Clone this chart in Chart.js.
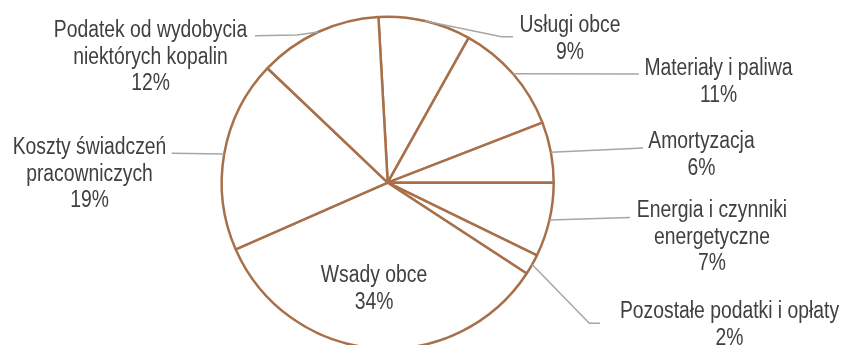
<!DOCTYPE html>
<html>
<head>
<meta charset="utf-8">
<script src="https://cdn.jsdelivr.net/npm/chart.js@4.4.1/dist/chart.umd.min.js"></script>
<style>
  html, body { margin: 0; padding: 0; background: #ffffff; overflow: hidden; }
  #wrap { position: relative; width: 843px; height: 345px; }
</style>
</head>
<body>
<div id="wrap"><canvas id="c" width="843" height="345"></canvas></div>
<script>
// ---- data ----
const categories = [
  "Usługi obce",
  "Materiały i paliwa",
  "Amortyzacja",
  "Energia i czynniki energetyczne",
  "Pozostałe podatki i opłaty",
  "Wsady obce",
  "Koszty świadczeń pracowniczych",
  "Podatek od wydobycia niektórych kopalin"
];
const values = [9.0, 11.0, 5.9, 7.2, 2.0, 34.2, 18.7, 12.0];
// label text lines (category part), percentage appended from values
const labelLines = [
  ["Usługi obce"],
  ["Materiały i paliwa"],
  ["Amortyzacja"],
  ["Energia i czynniki", "energetyczne"],
  ["Pozostałe podatki i opłaty"],
  ["Wsady obce"],
  ["Koszty świadczeń", "pracowniczych"],
  ["Podatek od wydobycia", "niektórych kopalin"]
];

// ---- layout (label placement, not data) ----
const labelLayout = [
  { x: 570,   y: 32,  leader: [[501.7, 36.7], [513, 36.7]] },
  { x: 718.5, y: 75,  leader: [[639, 74]] },
  { x: 701.5, y: 148, leader: [[643, 148]] },
  { x: 712,   y: 217, leader: [[630, 217.5]] },
  { x: 729.5, y: 318, leader: [[589.3, 323.3], [600, 323.3]] },
  { x: 374,   y: 282, leader: null },
  { x: 89.5,  y: 154, leader: [[171.7, 153.3]] },
  { x: 150.5, y: 37,  leader: [[297, 35], [255, 35.7]] }
];
const LINE_H = 26.7;
const FONT = '23px "Liberation Sans", Arial, sans-serif';
const NARROW = 0.84;

const labelPlugin = {
  id: 'pieLabels',
  afterDatasetsDraw(chart) {
    const ctx = chart.ctx;
    const meta = chart.getDatasetMeta(0);
    const total = values.reduce((a, b) => a + b, 0);
    ctx.save();
    meta.data.forEach((arc, i) => {
      const p = arc.getProps(['x', 'y', 'startAngle', 'endAngle', 'outerRadius'], true);
      const mid = (p.startAngle + p.endAngle) / 2;
      const ex = p.x + p.outerRadius * Math.cos(mid);
      const ey = p.y + p.outerRadius * Math.sin(mid);
      const lay = labelLayout[i];
      if (lay.leader) {
        ctx.beginPath();
        ctx.strokeStyle = '#a6a6a6';
        ctx.lineWidth = 1.5;
        ctx.moveTo(ex, ey);
        lay.leader.forEach(pt => ctx.lineTo(pt[0], pt[1]));
        ctx.stroke();
      }
      const pct = Math.round(values[i] / total * 100) + '%';
      const lines = labelLines[i].concat([pct]);
      ctx.fillStyle = '#404040';
      ctx.font = FONT;
      ctx.textAlign = 'center';
      ctx.textBaseline = 'alphabetic';
      lines.forEach((t, k) => {
        ctx.save();
        ctx.translate(lay.x, lay.y + k * LINE_H);
        ctx.scale(NARROW, 1);
        ctx.fillText(t, 0, 0);
        ctx.restore();
      });
    });
    ctx.restore();
  }
};

new Chart(document.getElementById('c'), {
  type: 'pie',
  data: {
    labels: categories,
    datasets: [{
      data: values,
      backgroundColor: '#ffffff',
      borderColor: '#a8704a',
      borderWidth: 2.5,
      radius: 166,
      hoverOffset: 0
    }]
  },
  options: {
    responsive: false,
    animation: false,
    rotation: -3.2,
    layout: { padding: { left: 0, right: 67.6, top: 20.4, bottom: 0 } },
    plugins: {
      legend: { display: false },
      tooltip: { enabled: false }
    },
    events: []
  },
  plugins: [labelPlugin]
});
</script>
</body>
</html>
